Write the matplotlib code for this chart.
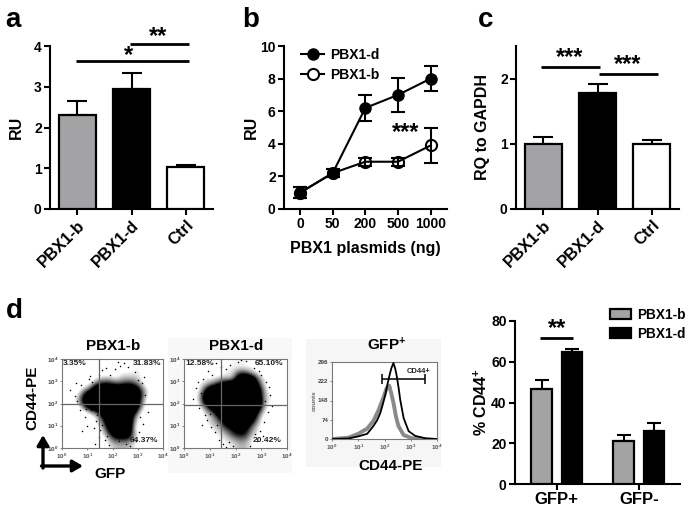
import matplotlib
matplotlib.use('Agg')
import matplotlib.pyplot as plt
from matplotlib.lines import Line2D
from matplotlib.patches import Rectangle

plt.rcParams['font.family'] = ['Liberation Sans', 'DejaVu Sans']
plt.rcParams['font.weight'] = 'bold'
plt.rcParams['axes.labelweight'] = 'bold'
plt.rcParams['mathtext.fontset'] = 'custom'
plt.rcParams['mathtext.rm'] = 'Liberation Sans:bold'
plt.rcParams['mathtext.default'] = 'rm'

W, H = 695, 513

cats = ['PBX1-b', 'PBX1-d', 'Ctrl']
a_vals = [2.30, 2.95, 1.04]
a_errs = [0.35, 0.38, 0.04]
c_vals = [0.99, 1.78, 1.00]
c_errs = [0.12, 0.14, 0.06]
bar_cols = ['#a3a3a6', '#000000', '#ffffff']

doses = ['0', '50', '200', '500', '1000']
d_line = [1.0, 2.2, 6.2, 7.0, 8.0]
d_err = [0.35, 0.25, 0.80, 1.02, 0.77]
b_line = [1.0, 2.2, 2.9, 2.9, 3.9]
b_err = [0.35, 0.25, 0.25, 0.25, 1.08]

groups = ['GFP+', 'GFP-']
gfp_b = [46.5, 21.0]
gfp_b_err = [4.5, 3.0]
gfp_d = [65.0, 26.0]
gfp_d_err = [1.5, 3.8]

# cell density, top row = 10^3.75-10^4, left column = 10^0-10^0.25
dens1 = [
    [0, 0, 0, 0, 0, 0, 0, 0, 0, 0, 0, 0, 0, 0, 0, 0],
    [0, 0, 0, 0, 0, 0, 0, 0, 0, 0, 0, 1, 1, 0, 0, 0],
    [0, 0, 0, 0, 0, 0, 0, 0, 0, 1, 1, 1, 1, 0, 0, 0],
    [0, 0, 0, 0, 0, 1, 2, 2, 1, 2, 2, 2, 1, 0, 0, 0],
    [0, 0, 0, 0, 1, 4, 5, 5, 4, 4, 5, 4, 2, 0, 0, 0],
    [0, 0, 0, 2, 4, 9, 9, 9, 9, 9, 9, 8, 4, 1, 0, 0],
    [0, 0, 1, 5, 9, 9, 9, 9, 9, 9, 9, 9, 5, 1, 0, 0],
    [0, 0, 2, 6, 9, 9, 9, 9, 9, 9, 9, 9, 4, 0, 0, 0],
    [0, 0, 0, 4, 8, 9, 9, 9, 9, 9, 9, 9, 3, 0, 0, 0],
    [0, 0, 0, 0, 2, 4, 8, 9, 9, 9, 9, 6, 1, 0, 0, 0],
    [0, 0, 0, 0, 0, 1, 5, 9, 9, 9, 9, 3, 0, 0, 0, 0],
    [0, 0, 0, 0, 0, 1, 3, 8, 9, 9, 9, 2, 0, 0, 0, 0],
    [0, 0, 0, 0, 0, 0, 2, 6, 9, 9, 9, 1, 0, 0, 0, 0],
    [0, 0, 0, 0, 0, 0, 1, 4, 7, 8, 7, 2, 0, 0, 0, 0],
    [0, 0, 0, 0, 0, 0, 0, 2, 4, 4, 4, 2, 0, 0, 0, 0],
    [0, 0, 0, 0, 0, 0, 0, 1, 2, 2, 2, 1, 0, 0, 0, 0],
]
dens2 = [
    [0, 0, 0, 0, 0, 0, 0, 1, 1, 1, 0, 0, 0, 0, 0, 0],
    [0, 0, 0, 0, 0, 0, 1, 1, 1, 1, 1, 0, 0, 0, 0, 0],
    [0, 0, 0, 0, 0, 0, 1, 1, 4, 4, 2, 1, 0, 0, 0, 0],
    [0, 0, 0, 1, 1, 2, 2, 2, 7, 9, 8, 3, 1, 0, 0, 0],
    [0, 0, 1, 2, 3, 5, 7, 8, 9, 9, 9, 5, 1, 0, 0, 0],
    [0, 0, 1, 5, 9, 9, 9, 9, 9, 9, 9, 7, 2, 0, 0, 0],
    [0, 0, 2, 8, 9, 9, 9, 9, 9, 9, 9, 8, 2, 1, 0, 0],
    [0, 0, 2, 8, 9, 9, 9, 9, 9, 9, 9, 9, 2, 1, 0, 0],
    [0, 0, 1, 4, 8, 9, 9, 9, 9, 9, 9, 8, 2, 0, 0, 0],
    [0, 0, 0, 2, 4, 8, 9, 9, 9, 9, 9, 5, 1, 0, 0, 0],
    [0, 0, 0, 1, 2, 5, 8, 9, 9, 9, 8, 3, 0, 0, 0, 0],
    [0, 0, 0, 1, 2, 3, 6, 8, 9, 8, 5, 2, 0, 0, 0, 0],
    [0, 0, 0, 0, 1, 2, 4, 5, 7, 6, 3, 1, 0, 0, 0, 0],
    [0, 0, 0, 0, 1, 1, 2, 4, 5, 5, 2, 1, 0, 0, 0, 0],
    [0, 0, 0, 0, 0, 1, 1, 2, 3, 3, 1, 0, 0, 0, 0, 0],
    [0, 0, 0, 0, 0, 0, 1, 1, 2, 2, 1, 0, 0, 0, 0, 0],
]
spk1_x = [.3, .55, .7, .9, 1.0, 1.15, 1.25, 1.35, 1.45, .6, 1.05, 1.6, 1.75, 1.9, 2.1, 2.3, 2.6, 2.9, 3.15, 3.3, 3.4, 3.2, 3.05, 2.95, 1.5, 1.7, 1.3, 1.1, 1.85, 2.7, 3.0, 0.8, 1.45, 2.2, 2.45, 3.25, 2.8, 2.55, 2.25, 3.1, 3.0, 1.6, 1.4, .95, .75, .5, 1.2, 1.8]
spk1_y = [2.6, 2.9, 1.7, 1.4, 1.0, 1.7, .9, 1.2, .5, 2.1, 3.1, 3.5, 3.6, 3.3, 3.55, 3.7, 3.65, 3.4, 2.9, 2.4, 1.6, 1.1, .7, .3, .8, .35, .2, 3.25, .15, .1, 3.05, .75, 3.3, 3.85, 3.8, 3.2, .4, .2, .3, 1.4, 2.65, 1.05, 1.5, 1.75, 2.85, 2.35, 2.95, .55]
spk2_x = [.35, .45, .6, .75, .9, 1.05, 1.2, 1.35, 1.5, 1.65, 1.8, 2.1, 2.4, 2.7, 3.0, 3.2, 3.35, 3.25, 3.1, 2.95, 2.85, 1.1, .95, .8, 1.3, 1.45, 1.9, 2.55, 3.05, .55, 1.65, 2.2, 3.4, .7, 1.25, 1.75, 3.15, 2.75, .65, 1.0, 2.9, 3.3]
spk2_y = [2.2, 2.7, 1.8, 3.1, 1.25, .95, .7, .35, .2, 3.55, 3.75, 3.85, 3.9, 3.6, 3.3, 2.95, 2.4, 1.6, 1.15, .75, .3, 3.3, 3.45, 1.5, 1.05, 3.65, .1, .08, .55, 2.95, .05, 3.95, 1.9, 1.05, 3.8, .25, 2.1, .65, 2.45, 1.55, 3.45, 2.75]

hist_black_x = [0, .62, 1.0, 1.34, 1.58, 1.72, 1.84, 1.94, 2.03, 2.1, 2.18, 2.26, 2.34, 2.41, 2.47, 2.54, 2.6, 2.73, 2.92, 3.17, 3.55, 4]
hist_black_y = [0, 2, 10, 20, 50, 72, 100, 135, 170, 205, 240, 272, 292, 270, 240, 195, 150, 80, 30, 12, 3, 0]
hist_gray_x = [0, .62, 1.0, 1.34, 1.58, 1.77, 1.96, 2.08, 2.18, 2.26, 2.34, 2.44, 2.53, 2.73, 3.05, 3.5]
hist_gray_y = [0, 5, 20, 40, 70, 110, 160, 195, 205, 175, 140, 85, 50, 15, 3, 0]

fs = 10
fig = plt.figure(figsize=(W / 100, H / 100), dpi=100, facecolor='white')


def ax_px(l, t, r, b, **kw):
    return fig.add_axes([l / W, 1 - b / H, (r - l) / W, (b - t) / H], **kw)


def prism(ax, lw=1.5):
    for s in ('top', 'right'):
        ax.spines[s].set_visible(False)
    for s in ('left', 'bottom'):
        ax.spines[s].set_linewidth(lw)
    ax.tick_params(width=lw, length=4, labelsize=fs, pad=2)
    ax.patch.set_alpha(0)


ov = fig.add_axes([0, 0, 1, 1], zorder=10)
ov.set_xlim(0, W)
ov.set_ylim(H, 0)
ov.axis('off')
bg = fig.add_axes([0, 0, 1, 1], zorder=-1)
bg.set_xlim(0, W)
bg.set_ylim(H, 0)
bg.axis('off')
bg.add_patch(Rectangle((168, 338), 124, 135, fc='#f8f8f8', ec='none'))
bg.add_patch(Rectangle((306, 339), 135, 128, fc='#f6f6f6', ec='none'))


def sig(x0, x1, y, txt, ty, x=None, size=17):
    ov.plot([x0, x1], [y, y], color='k', lw=2, solid_capstyle='butt')
    ov.text((x0 + x1) / 2 if x is None else x, ty, txt, ha='center', va='center', fontsize=size)


for txt, x, y in [('a', 13, 20), ('b', 251, 20), ('c', 486, 20), ('d', 14, 311)]:
    ov.text(x, y, txt, ha='center', va='center', fontsize=20)


def bars(ax, vals, errs, ylim, ticks, ylabel):
    xs = range(len(vals))
    ax.bar(xs, vals, width=0.68, color=bar_cols, edgecolor='k', linewidth=1.6, zorder=3)
    ax.errorbar(xs, vals, yerr=[[0] * len(errs), errs], fmt='none', ecolor='k', elinewidth=1.5,
                capsize=7, capthick=1.5, zorder=2)
    ax.set_xlim(-0.5, len(vals) - 0.5)
    ax.set_ylim(*ylim)
    ax.set_yticks(ticks)
    ax.set_xticks(list(xs))
    ax.set_xticklabels(cats, rotation=45, ha='right', rotation_mode='anchor')
    ax.set_ylabel(ylabel, fontsize=11.5, labelpad=7)
    prism(ax)
    ax.tick_params(axis='x', labelsize=12)


axa = ax_px(50, 46, 213, 209)
bars(axa, a_vals, a_errs, (0, 4), [0, 1, 2, 3, 4], 'RU')
sig(76, 189, 61, '*', 56, x=128)
sig(130, 189, 44, '**', 37, x=158)

axb = ax_px(284, 46, 447, 209)
xb = list(range(len(doses)))
axb.errorbar(xb, d_line, yerr=d_err, color='k', marker='o', ms=8, mfc='k', mec='k', lw=1.5,
             capsize=5, capthick=1.5, elinewidth=1.5, zorder=3)
axb.errorbar(xb, b_line, yerr=b_err, color='k', marker='o', ms=8, mfc='none', mec='k', mew=1.5,
             lw=1.5, capsize=5, capthick=1.5, elinewidth=1.5, zorder=4)
axb.set_xlim(-0.49, 4.5)
axb.set_ylim(0, 10)
axb.set_yticks([0, 2, 4, 6, 8, 10])
axb.set_xticks(xb)
axb.set_xticklabels(doses)
axb.set_xlabel('PBX1 plasmids (ng)', fontsize=11.5, labelpad=7)
axb.set_ylabel('RU', fontsize=11.5, labelpad=1)
prism(axb)
hd = [Line2D([], [], color='k', marker='o', ms=8, mfc='k', lw=1.5),
      Line2D([], [], color='k', marker='o', ms=8, mfc='white', mew=1.5, lw=1.5)]
axb.legend(hd, ['PBX1-d', 'PBX1-b'], loc='upper left', bbox_to_anchor=(0.06, 1.03), frameon=False, fontsize=10,
           handlelength=1.7, labelspacing=0.4, borderpad=0, handletextpad=0.4)
ov.text(406, 133, '***', ha='center', va='center', fontsize=17)

axc = ax_px(516, 46, 679, 209)
bars(axc, c_vals, c_errs, (0, 2.5), [0, 1, 2], 'RQ to GAPDH')
sig(541, 600, 67, '***', 58, x=570)
sig(599, 658, 74, '***', 65, x=628)

axd = ax_px(515, 321, 680, 484)
pos1 = [0, 1.57]
wd = 0.39
x_b = [p - 0.29 for p in pos1]
x_d = [p + 0.29 for p in pos1]
kw = dict(width=wd, edgecolor='k', linewidth=1.6, zorder=3)
axd.bar(x_b, gfp_b, color=bar_cols[0], label='PBX1-b', **kw)
axd.bar(x_d, gfp_d, color='k', label='PBX1-d', **kw)
for xx, v, e in [(x_b, gfp_b, gfp_b_err), (x_d, gfp_d, gfp_d_err)]:
    axd.errorbar(xx, v, yerr=[[0, 0], e], fmt='none', ecolor='k', elinewidth=1.5, capsize=5,
                 capthick=1.5, zorder=2)
axd.set_xlim(-0.797, 2.357)
axd.set_ylim(0, 80)
axd.set_yticks([0, 20, 40, 60, 80])
axd.set_xticks(pos1)
axd.set_xticklabels(groups)
axd.set_ylabel('% CD44$^{+}$', fontsize=11.5, labelpad=1)
prism(axd)
axd.tick_params(axis='x', labelsize=12)
axd.legend(loc='upper left', bbox_to_anchor=(0.575, 1.08), frameon=False, fontsize=9.8, handlelength=1.55,
           handleheight=0.75, labelspacing=0.35, borderpad=0, handletextpad=0.45, borderaxespad=0)
sig(540, 573, 338, '**', 329, x=557)


def log_ticks(ax):
    ax.set_xlim(0, 4)
    ax.set_xticks([0, 1, 2, 3, 4])
    ax.set_xticklabels(['$10^{%d}$' % i for i in range(5)], fontsize=4.5, color='#444444')
    ax.tick_params(length=1.5, width=0.5, pad=1, colors='#555555')
    for s in ax.spines.values():
        s.set_linewidth(0.8)
        s.set_color('#777777')


def flow(box, dens, sx, sy, gx, gy, labels, title):
    ax = ax_px(*box)
    ax.imshow(dens, extent=(0, 4, 0, 4), origin='upper', cmap='gray_r', vmin=0.8, vmax=5,
              interpolation='bicubic', aspect='auto', zorder=1)
    log_ticks(ax)
    ax.set_ylim(0, 4)
    ax.set_yticks([0, 1, 2, 3, 4])
    ax.set_yticklabels(['$10^{%d}$' % i for i in range(5)], fontsize=4.5, color='#444444')
    ax.scatter(sx, sy, s=1.2, c='k', linewidths=0, zorder=2)
    ax.axvline(gx, color='#666666', lw=0.9, zorder=3)
    ax.axhline(gy, color='#666666', lw=0.9, zorder=3)
    for (t, x, y, ha) in labels:
        ax.text(x, y, t, fontsize=6, color='#222222', ha=ha, va='center', zorder=4)
    ov.text((box[0] + box[2]) / 2 + 0.5, 346, title, ha='center', va='center', fontsize=11)


flow((62, 359, 163, 448), dens1, spk1_x, spk1_y, 1.47, 1.97,
     [('3.35%', 0.05, 3.8, 'left'), ('31.83%', 3.95, 3.8, 'right'), ('64.37%', 3.8, 0.35, 'right')], 'PBX1-b')
flow((184, 359, 287, 448), dens2, spk2_x, spk2_y, 1.45, 1.95,
     [('12.58%', 0.05, 3.8, 'left'), ('65.10%', 3.85, 3.8, 'right'), ('20.42%', 3.8, 0.35, 'right')], 'PBX1-d')

axh = ax_px(332, 362, 437, 439)
log_ticks(axh)
axh.set_ylim(0, 296)
axh.set_yticks([0, 74, 148, 222, 296])
axh.set_yticklabels(['0', '74', '148', '222', '296'], fontsize=4.5, color='#444444')
axh.set_ylabel('counts', fontsize=4.5, color='#666666', labelpad=1)
axh.plot(hist_gray_x, hist_gray_y, color='#8a8a8a', lw=2.8, zorder=2)
axh.plot(hist_black_x, hist_black_y, color='k', lw=1.3, zorder=3)
axh.errorbar([2.74], [231], xerr=[0.82], color='k', lw=1.1, capsize=3.5, capthick=1.1, zorder=4)
axh.text(3.3, 258, 'CD44+', fontsize=5.5, ha='center', va='center', color='#222222')
ov.text(387, 345, 'GFP$^{+}$', ha='center', va='center', fontsize=11)
ov.text(391, 466, 'CD44-PE', ha='center', va='center', fontsize=11)
ov.text(110, 474, 'GFP', ha='center', va='center', fontsize=11)
ov.text(32, 398, 'CD44-PE', ha='center', va='center', rotation=90, fontsize=11)

ov.annotate('', xy=(43, 435), xytext=(43, 468), arrowprops=dict(arrowstyle='-|>,head_width=0.35,head_length=0.6', color='k', lw=2.4, shrinkA=0, shrinkB=0))
ov.annotate('', xy=(83, 466), xytext=(41.5, 466), arrowprops=dict(arrowstyle='-|>,head_width=0.35,head_length=0.6', color='k', lw=2.4, shrinkA=0, shrinkB=0))

fig.savefig('out.png', dpi=100)
